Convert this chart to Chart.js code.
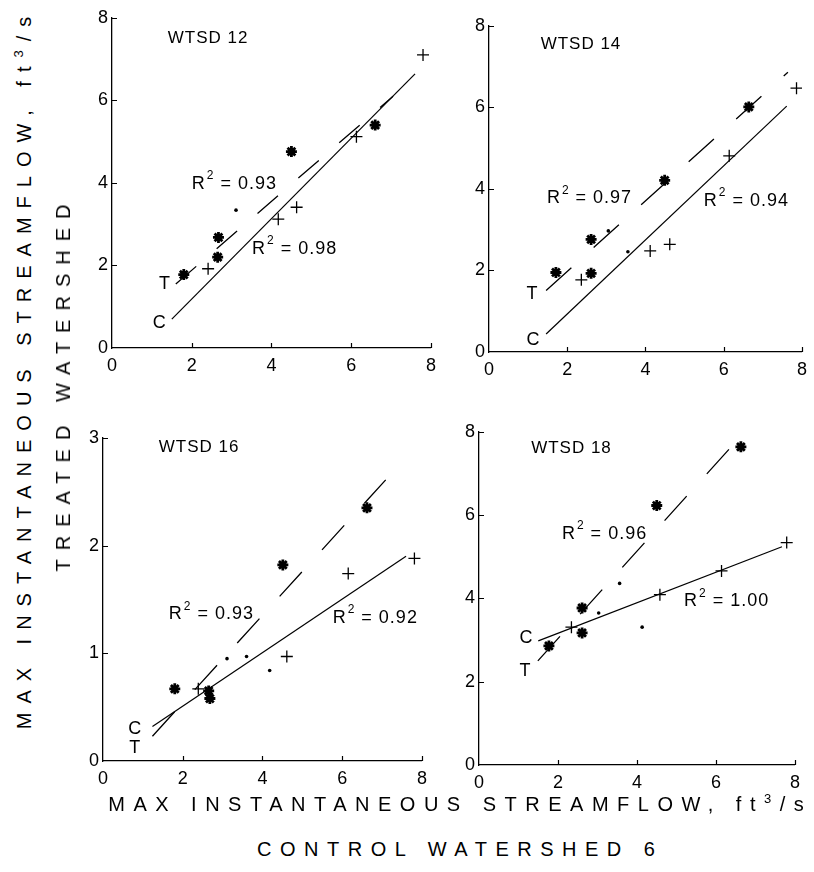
<!DOCTYPE html>
<html>
<head>
<meta charset="utf-8">
<title>Max instantaneous streamflow, treated vs control watershed</title>
<script src="https://cdn.jsdelivr.net/npm/chart.js@4.4.1/dist/chart.umd.min.js"></script>
<style>
  html, body { margin: 0; padding: 0; background: #fff; }
  body {
    width: 814px; height: 872px; position: relative; overflow: hidden;
    font-family: "Liberation Sans", Arial, sans-serif; color: #000;
  }
  canvas { position: absolute; }
  .axis-title {
    position: absolute; white-space: nowrap; line-height: 1;
    font-size: 20px; letter-spacing: 8.5px; padding-left: 8.5px;
    transform: translate(-50%, -50%);
  }
  .axis-title.vert {
    letter-spacing: 9px; padding-left: 9px;
    transform: translate(-50%, -50%) rotate(-90deg);
  }
  .axis-title sup { font-size: 13px; line-height: 0; vertical-align: 0.6em; }
</style>
</head>
<body>

<canvas id="p12" width="365" height="375" style="left:78px;top:3px"></canvas>
<canvas id="p14" width="359" height="371" style="left:455px;top:11px"></canvas>
<canvas id="p16" width="365" height="368" style="left:69px;top:423px"></canvas>
<canvas id="p18" width="362" height="378" style="left:445px;top:417px"></canvas>

<div class="axis-title vert" style="left:24px;top:373px">MAX INSTANTANEOUS STREAMFLOW, ft<sup>3</sup>/s</div>
<div class="axis-title vert" style="left:63px;top:388px">TREATED WATERSHED</div>
<div class="axis-title" style="left:456px;top:804px">MAX INSTANTANEOUS STREAMFLOW, ft<sup>3</sup>/s</div>
<div class="axis-title" style="left:456px;top:849px">CONTROL WATERSHED 6</div>

<script>
const FONT = '"Liberation Sans", Arial, sans-serif';
const INK = '#000';

const xTicks = [0, 2, 4, 6, 8];

// [control ft3/s, treated ft3/s]
// WTSD 12
const treated12 = [[1.8, 1.78], [2.65, 2.2], [2.67, 2.68], [4.5, 4.76], [6.6, 5.4]];
const control12 = [[2.41, 1.92], [4.17, 3.12], [4.63, 3.41], [6.13, 5.12], [7.8, 7.1]];
const dots12 = [[3.11, 3.34]];
const fitT12 = [[1.6, 1.55], [7.05, 6.1]];
const fitC12 = [[1.5, 0.7], [7.6, 6.64]];
const r2_12 = ['0.93', '0.98'];

// WTSD 14
const treated14 = [[1.71, 1.95], [2.61, 1.93], [2.61, 2.76], [4.49, 4.21], [6.64, 6.01]];
const control14 = [[2.36, 1.77], [4.12, 2.48], [4.62, 2.64], [6.14, 4.81], [7.86, 6.47]];
const dots14 = [[3.05, 2.97], [3.55, 2.46]];
const fitT14 = [[1.46, 1.51], [7.64, 6.86]];
const fitC14 = [[1.46, 0.44], [7.61, 6.03]];
const r2_14 = ['0.97', '0.94'];

// WTSD 16
const treated16 = [[1.8, 0.67], [2.65, 0.65], [2.68, 0.58], [4.51, 1.82], [6.62, 2.35]];
const control16 = [[2.39, 0.67], [4.61, 0.97], [6.15, 1.74], [7.81, 1.88]];
const dots16 = [[3.11, 0.95], [3.6, 0.97], [4.18, 0.84]];
const fitT16 = [[1.24, 0.23], [7.09, 2.61]];
const fitC16 = [[1.24, 0.32], [7.6, 1.9]];
const r2_16 = ['0.93', '0.92'];

// WTSD 18
const treated18 = [[1.77, 2.86], [2.61, 3.77], [2.61, 3.17], [4.5, 6.23], [6.63, 7.64]];
const control18 = [[2.34, 3.31], [4.58, 4.09], [6.14, 4.66], [7.79, 5.34]];
const dots18 = [[3.03, 3.65], [3.56, 4.36], [4.13, 3.31]];
const fitT18 = [[1.49, 2.5], [6.33, 7.58]];
const fitC18 = [[1.5, 2.98], [7.67, 5.24]];
const r2_18 = ['0.96', '1.00'];

const panels = [
  {
    canvas: 'p12', title: 'WTSD 12', yMax: 8, yStep: 2, padRight: 12, dash: [27, 27],
    treated: treated12, control: control12, dots: dots12, fitT: fitT12, fitC: fitC12, r2: r2_12,
    notes: { title: [1.4, 7.5], r2T: [2.0, 3.97], r2C: [3.51, 2.4], T: [1.33, 1.56], C: [1.2, 0.61] }
  },
  {
    canvas: 'p14', title: 'WTSD 14', yMax: 8, yStep: 2, padRight: 6, dash: [34, 30],
    treated: treated14, control: control14, dots: dots14, fitT: fitT14, fitC: fitC14, r2: r2_14,
    notes: { title: [1.32, 7.54], r2T: [1.48, 3.77], r2C: [5.49, 3.7], T: [1.11, 1.43], C: [1.14, 0.29] }
  },
  {
    canvas: 'p16', title: 'WTSD 16', yMax: 3, yStep: 1, padRight: 12, dash: [33, 30],
    treated: treated16, control: control16, dots: dots16, fitT: fitT16, fitC: fitC16, r2: r2_16,
    notes: { title: [1.4, 2.91], r2T: [1.65, 1.36], r2C: [5.76, 1.33], T: [0.81, 0.12], C: [0.81, 0.3] }
  },
  {
    canvas: 'p18', title: 'WTSD 18', yMax: 8, yStep: 2, padRight: 6, dash: [33, 30],
    treated: treated18, control: control18, dots: dots18, fitT: fitT18, fitC: fitC18, r2: r2_18,
    notes: { title: [1.32, 7.6], r2T: [2.1, 5.55], r2C: [5.19, 3.93], T: [1.18, 2.26], C: [1.2, 3.04] }
  }
];

const toXY = pairs => pairs.map(p => ({ x: p[0], y: p[1] }));

// short tick marks pointing into the plot, plus panel title, R² and C/T tags
const panelMarks = {
  id: 'panelMarks',
  afterDraw(chart, args, opts) {
    const { ctx, chartArea: area, scales: { x, y } } = chart;
    ctx.save();
    ctx.strokeStyle = INK;
    ctx.lineWidth = 1.2;
    ctx.beginPath();
    x.ticks.forEach(t => {
      if (t.value === 0) return;
      const px = Math.round(x.getPixelForValue(t.value)) + 0.5;
      ctx.moveTo(px, area.bottom);
      ctx.lineTo(px, area.bottom - 5);
    });
    y.ticks.forEach(t => {
      if (t.value === 0) return;
      const py = Math.round(y.getPixelForValue(t.value)) + 0.5;
      ctx.moveTo(area.left, py);
      ctx.lineTo(area.left + 5, py);
    });
    ctx.stroke();

    ctx.fillStyle = INK;
    ctx.textBaseline = 'middle';
    ctx.textAlign = 'left';
    if ('letterSpacing' in ctx) ctx.letterSpacing = '1px';
    const at = p => [x.getPixelForValue(p[0]), y.getPixelForValue(p[1])];

    ctx.font = '17px ' + FONT;
    let [tx, ty] = at(opts.notes.title);
    ctx.fillText(opts.title, tx, ty);

    const drawR2 = (p, val) => {
      let [rx, ry] = at(p);
      ctx.font = '18px ' + FONT;
      ctx.fillText('R', rx, ry);
      rx += ctx.measureText('R').width + 1;
      ctx.font = '12px ' + FONT;
      ctx.fillText('2', rx, ry - 8);
      rx += ctx.measureText('2').width;
      ctx.font = '18px ' + FONT;
      ctx.fillText(' = ' + val, rx, ry);
    };
    drawR2(opts.notes.r2T, opts.r2[0]);
    drawR2(opts.notes.r2C, opts.r2[1]);

    ctx.font = '18px ' + FONT;
    ctx.textAlign = 'center';
    [tx, ty] = at(opts.notes.T);
    ctx.fillText('T', tx, ty);
    [tx, ty] = at(opts.notes.C);
    ctx.fillText('C', tx, ty);
    ctx.restore();
  }
};

panels.forEach(p => {
  new Chart(document.getElementById(p.canvas), {
    type: 'scatter',
    data: {
      datasets: [
        { data: toXY(p.treated), pointStyle: 'star', pointRadius: 5.5, borderWidth: 2.8,
          borderColor: INK, backgroundColor: INK },
        { data: toXY(p.control), pointStyle: 'cross', pointRadius: 6, borderWidth: 1.3,
          borderColor: INK, backgroundColor: INK },
        { data: toXY(p.dots), pointStyle: 'circle', pointRadius: 1.8, borderWidth: 0,
          backgroundColor: INK },
        { data: toXY(p.fitT), showLine: true, pointRadius: 0, borderWidth: 1.3,
          borderColor: INK, borderDash: p.dash },
        { data: toXY(p.fitC), showLine: true, pointRadius: 0, borderWidth: 1.2,
          borderColor: INK }
      ]
    },
    options: {
      responsive: false,
      animation: false,
      devicePixelRatio: 1,
      layout: { padding: { top: 12, right: p.padRight, left: 0, bottom: 0 } },
      plugins: {
        legend: { display: false },
        tooltip: { enabled: false },
        panelMarks: { title: p.title, r2: p.r2, notes: p.notes }
      },
      scales: {
        x: {
          type: 'linear', min: 0, max: 8,
          afterBuildTicks: s => { s.ticks = xTicks.map(v => ({ value: v })); },
          ticks: { color: INK, font: { family: FONT, size: 18 }, padding: 7, maxRotation: 0 },
          grid: { drawOnChartArea: false, drawTicks: false },
          border: { color: INK, width: 1.3 },
          afterFit: s => { s.height = 30; }
        },
        y: {
          type: 'linear', min: 0, max: p.yMax,
          ticks: { stepSize: p.yStep, color: INK, font: { family: FONT, size: 18 }, padding: 4 },
          grid: { drawOnChartArea: false, drawTicks: false },
          border: { color: INK, width: 1.3 },
          afterFit: s => { s.width = 34; }
        }
      }
    },
    plugins: [panelMarks]
  });
});
</script>
</body>
</html>
